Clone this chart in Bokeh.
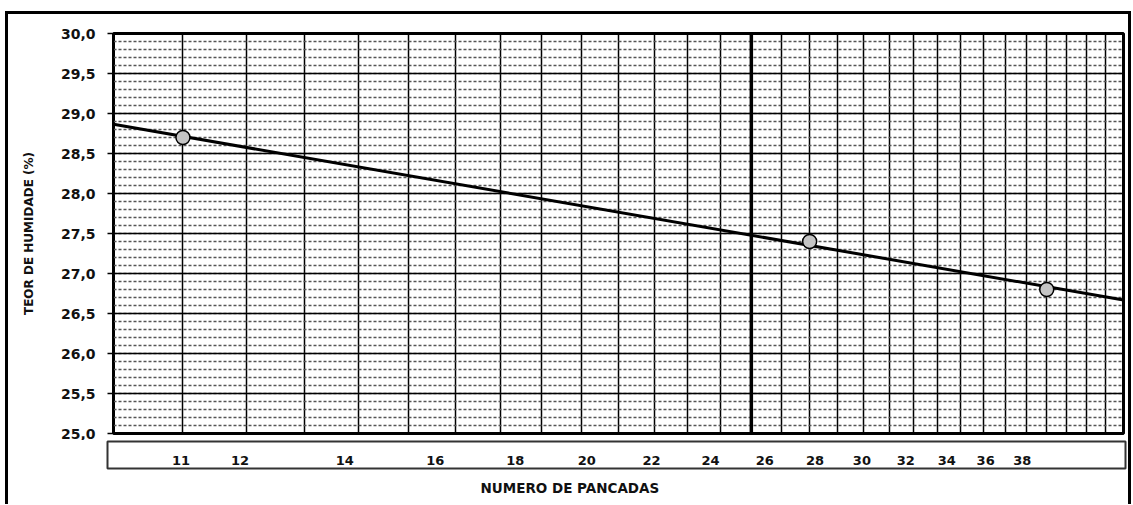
import numpy as np
from bokeh.plotting import figure
from bokeh.models import Range1d, FixedTicker, Span, Title
from bokeh.layouts import column
from bokeh.embed import file_html
from bokeh.resources import INLINE
from bokeh.core.properties import value

# ---- data ----
blows = [11, 26, 36]
moisture = [28.7, 27.4, 26.8]
limit_blows = 24
grid_blows = list(range(11, 40))
x_labels = [11, 12, 14, 16, 18, 20, 22, 24, 26, 28, 30, 32, 34, 36, 38]
y_ticks = [25.0, 25.5, 26.0, 26.5, 27.0, 27.5, 28.0, 28.5, 29.0, 29.5, 30.0]
y_tick_labels = ["25,0", "25,5", "26,0", "26,5", "27,0", "27,5", "28,0", "28,5", "29,0", "29,5", "30,0"]
y_minor = [round(25 + 0.1 * i, 1) for i in range(51)]
x_title = "NUMERO DE PANCADAS"
y_title = "TEOR DE HUMIDADE (%)"

FONT = "DejaVu Sans"

p = figure(width=1120, height=426, x_axis_type="log",
           x_range=Range1d(10, 40), y_range=Range1d(25, 30),
           output_backend="svg", toolbar_location=None,
           min_border_left=105, min_border_right=5, min_border_top=19, min_border_bottom=7)
p.outline_line_color = "black"
p.outline_line_width = 3
p.xaxis.visible = False
p.xgrid.ticker = FixedTicker(ticks=grid_blows)
p.xgrid.grid_line_color = "black"
p.xgrid.grid_line_width = 1.5
p.xgrid.grid_line_alpha = 1

p.yaxis.ticker = FixedTicker(ticks=y_ticks, minor_ticks=y_minor)
p.yaxis.major_label_overrides = {t: l for t, l in zip(y_ticks, y_tick_labels)}
p.ygrid.grid_line_color = "black"
p.ygrid.grid_line_width = 1.3
p.ygrid.minor_grid_line_color = "#555555"
p.ygrid.minor_grid_line_width = 1.6
p.ygrid.minor_grid_line_dash = "3 2"

p.yaxis.major_label_text_font = FONT
p.yaxis.major_label_text_font_size = "14px"
p.yaxis.major_label_text_font_style = "bold"
p.yaxis.major_label_text_color = "#111111"
p.yaxis.major_tick_out = 6
p.yaxis.major_tick_in = 0
p.yaxis.minor_tick_out = 0
p.yaxis.minor_tick_in = 0
p.yaxis.major_tick_line_color = "black"
p.yaxis.major_tick_line_width = 1.5
p.yaxis.axis_line_color = "black"
p.yaxis.major_label_standoff = 12
p.yaxis.axis_label = y_title
p.yaxis.axis_label_text_font = FONT
p.yaxis.axis_label_text_font_size = "12px"
p.yaxis.axis_label_text_font_style = "bold"
p.yaxis.axis_label_text_color = "#111111"
p.yaxis.axis_label_standoff = 22

p.add_layout(Span(location=limit_blows, dimension="height", line_color="black", line_width=3.5))

coef = np.polyfit(np.log10(blows), moisture, 1)
fit_x = np.array([p.x_range.start, p.x_range.end], dtype=float)
fit_y = coef[0] * np.log10(fit_x) + coef[1]
p.line(fit_x, fit_y, line_color="black", line_width=3)
p.scatter(blows, moisture, size=14, fill_color="#c4c4c4", line_color="black", line_width=1.5)

# ---- label strip ----
p2 = figure(width=1120, height=64, x_axis_type="log",
            x_range=Range1d(9.87, 44.24), y_range=Range1d(0, 1),
            output_backend="svg", toolbar_location=None,
            min_border_left=99, min_border_right=3, min_border_top=1, min_border_bottom=36)
p2.outline_line_color = "#333333"
p2.outline_line_width = 2
p2.xaxis.visible = False
p2.yaxis.visible = False
p2.grid.visible = False
p2.text(x=x_labels, y=[0.5] * len(x_labels), text=[str(v) for v in x_labels],
        text_align="center", text_baseline="middle", y_offset=5,
        text_font=value(FONT), text_font_style="bold", text_font_size="13px",
        text_color="#111111")
t = Title(text=x_title, align="left", offset=373, standoff=18, text_font=FONT,
          text_font_size="13.5px", text_font_style="bold", text_color="#111111")
p2.add_layout(t, "below")

layout = column(p, column(p2), margin=(11, 0, 0, 5),
                styles={"border": "3px solid black", "border-bottom": "none",
                        "background-color": "white"})

open("out.html", "w").write(file_html(layout, INLINE))
